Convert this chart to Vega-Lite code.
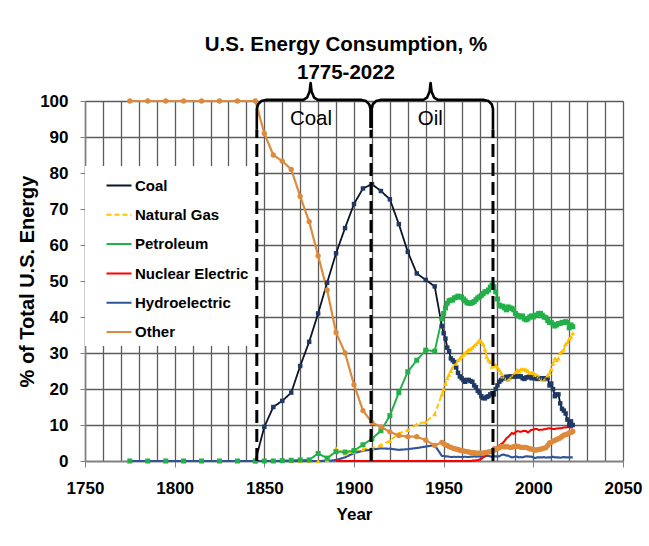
{
  "$schema": "https://vega.github.io/schema/vega-lite/v6.json",
  "width": 538,
  "height": 360,
  "autosize": {"type": "none"},
  "padding": {"left": 85, "top": 101, "right": 26, "bottom": 85},
  "background": "white",
  "config": {"view": {"stroke": null}, "font": "Liberation Sans"},
  "title": {
    "text": ["U.S. Energy Consumption, %", "1775-2022"],
    "font": "Liberation Sans",
    "fontSize": 20.5,
    "fontWeight": "bold",
    "color": "black",
    "lineHeight": 28,
    "anchor": "middle",
    "frame": "group",
    "offset": -2,
    "dx": -8
  },
  "datasets": {
    "energy": [
      {"year": 1775, "Natural Gas": 0, "Petroleum": 0, "Hydroelectric": 0, "Other": 100},
      {"year": 1785, "Natural Gas": 0, "Petroleum": 0, "Hydroelectric": 0, "Other": 100},
      {"year": 1795, "Natural Gas": 0, "Petroleum": 0, "Hydroelectric": 0, "Other": 100},
      {"year": 1805, "Natural Gas": 0, "Petroleum": 0, "Hydroelectric": 0, "Other": 100},
      {"year": 1815, "Natural Gas": 0, "Petroleum": 0, "Hydroelectric": 0, "Other": 100},
      {"year": 1825, "Natural Gas": 0, "Petroleum": 0, "Hydroelectric": 0, "Other": 100},
      {"year": 1835, "Natural Gas": 0, "Petroleum": 0, "Hydroelectric": 0, "Other": 100},
      {"year": 1845, "Coal": 0, "Natural Gas": 0, "Petroleum": 0, "Hydroelectric": 0, "Other": 100},
      {"year": 1850, "Coal": 9.5, "Natural Gas": 0, "Petroleum": 0, "Hydroelectric": 0, "Other": 91},
      {"year": 1855, "Coal": 15, "Natural Gas": 0, "Petroleum": 0, "Hydroelectric": 0, "Other": 85},
      {"year": 1860, "Coal": 16.7, "Natural Gas": 0, "Petroleum": 0.1, "Hydroelectric": 0, "Other": 83.3},
      {"year": 1865, "Coal": 19, "Natural Gas": 0, "Petroleum": 0.2, "Hydroelectric": 0, "Other": 81},
      {"year": 1870, "Coal": 26.4, "Natural Gas": 0, "Petroleum": 0.3, "Hydroelectric": 0, "Other": 73.5},
      {"year": 1875, "Coal": 33.1, "Natural Gas": 0, "Petroleum": 0.3, "Hydroelectric": 0, "Other": 66.5},
      {"year": 1880, "Coal": 41, "Natural Gas": 0, "Petroleum": 2.1, "Hydroelectric": 0, "Other": 57},
      {"year": 1885, "Coal": 49.5, "Natural Gas": 0.3, "Petroleum": 0.8, "Hydroelectric": 0, "Other": 47.5},
      {"year": 1890, "Coal": 57.7, "Natural Gas": 3.5, "Petroleum": 2.6, "Nuclear Electric": 0, "Hydroelectric": 0.3, "Other": 35.7},
      {"year": 1895, "Coal": 64.7, "Natural Gas": 2.1, "Petroleum": 2.5, "Nuclear Electric": 0, "Hydroelectric": 1.0, "Other": 30},
      {"year": 1900, "Coal": 71.4, "Natural Gas": 2.6, "Petroleum": 2.9, "Nuclear Electric": 0, "Hydroelectric": 2.2, "Other": 21.2},
      {"year": 1905, "Coal": 75.7, "Natural Gas": 3.2, "Petroleum": 4.5, "Nuclear Electric": 0, "Hydroelectric": 2.8, "Other": 14},
      {"year": 1910, "Coal": 76.9, "Natural Gas": 3.6, "Petroleum": 6.2, "Nuclear Electric": 0, "Hydroelectric": 3.2, "Other": 10.7},
      {"year": 1915, "Coal": 75, "Natural Gas": 4.4, "Petroleum": 8.4, "Nuclear Electric": 0, "Hydroelectric": 3.5, "Other": 9.5},
      {"year": 1920, "Coal": 72.7, "Natural Gas": 5.6, "Petroleum": 12.6, "Nuclear Electric": 0, "Hydroelectric": 3.4, "Other": 8.1},
      {"year": 1925, "Coal": 65.8, "Natural Gas": 7.7, "Petroleum": 19, "Nuclear Electric": 0, "Hydroelectric": 3.1, "Other": 7.1},
      {"year": 1930, "Coal": 58.1, "Natural Gas": 8.6, "Petroleum": 24.8, "Nuclear Electric": 0, "Hydroelectric": 3.3, "Other": 6.75},
      {"year": 1935, "Coal": 52.1, "Natural Gas": 10.2, "Petroleum": 28, "Nuclear Electric": 0, "Hydroelectric": 3.6, "Other": 6.75},
      {"year": 1940, "Coal": 50.3, "Natural Gas": 10.9, "Petroleum": 30.8, "Nuclear Electric": 0, "Hydroelectric": 4.0, "Other": 5.8},
      {"year": 1945, "Coal": 48.5, "Natural Gas": 13, "Petroleum": 30.5, "Nuclear Electric": 0, "Hydroelectric": 4.4, "Other": 4.3},
      {"year": 1949, "Coal": 37.5, "Natural Gas": 18.5, "Petroleum": 39.5, "Nuclear Electric": 0, "Hydroelectric": 1.4, "Other": 5.2},
      {"year": 1950, "Coal": 35.5, "Natural Gas": 20, "Petroleum": 41, "Nuclear Electric": 0, "Hydroelectric": 1.4, "Other": 4.8},
      {"year": 1951, "Coal": 34, "Natural Gas": 21.5, "Petroleum": 42.5, "Nuclear Electric": 0, "Hydroelectric": 1.3, "Other": 4.5},
      {"year": 1952, "Coal": 31.5, "Natural Gas": 23, "Petroleum": 43.8, "Nuclear Electric": 0, "Hydroelectric": 1.3, "Other": 4.3},
      {"year": 1953, "Coal": 30.5, "Natural Gas": 24, "Petroleum": 44.5, "Nuclear Electric": 0, "Hydroelectric": 1.2, "Other": 4.0},
      {"year": 1954, "Coal": 28.5, "Natural Gas": 25, "Petroleum": 44.7, "Nuclear Electric": 0, "Hydroelectric": 1.1, "Other": 3.8},
      {"year": 1955, "Coal": 28, "Natural Gas": 26, "Petroleum": 44.7, "Nuclear Electric": 0, "Hydroelectric": 1.1, "Other": 3.6},
      {"year": 1956, "Coal": 27.5, "Natural Gas": 26.5, "Petroleum": 45.3, "Nuclear Electric": 0, "Hydroelectric": 1.2, "Other": 3.4},
      {"year": 1957, "Coal": 26, "Natural Gas": 27, "Petroleum": 45.5, "Nuclear Electric": 0, "Hydroelectric": 1.1, "Other": 3.3},
      {"year": 1958, "Coal": 24.5, "Natural Gas": 28, "Petroleum": 45.8, "Nuclear Electric": 0, "Hydroelectric": 1.2, "Other": 3.2},
      {"year": 1959, "Coal": 23.5, "Natural Gas": 28.5, "Petroleum": 45.6, "Nuclear Electric": 0, "Hydroelectric": 1.1, "Other": 3.0},
      {"year": 1960, "Coal": 23, "Natural Gas": 29, "Petroleum": 45.5, "Nuclear Electric": 0, "Hydroelectric": 1.1, "Other": 2.9},
      {"year": 1961, "Coal": 22.5, "Natural Gas": 29.5, "Petroleum": 45, "Nuclear Electric": 0, "Hydroelectric": 1.1, "Other": 2.8},
      {"year": 1962, "Coal": 22, "Natural Gas": 30, "Petroleum": 44.5, "Nuclear Electric": 0, "Hydroelectric": 1.2, "Other": 2.7},
      {"year": 1963, "Coal": 22.5, "Natural Gas": 30.5, "Petroleum": 44, "Nuclear Electric": 0, "Hydroelectric": 1.1, "Other": 2.6},
      {"year": 1964, "Coal": 22.5, "Natural Gas": 31, "Petroleum": 43.8, "Nuclear Electric": 0, "Hydroelectric": 1.1, "Other": 2.5},
      {"year": 1965, "Coal": 22.2, "Natural Gas": 31, "Petroleum": 43.8, "Nuclear Electric": 0, "Hydroelectric": 1.2, "Other": 2.4},
      {"year": 1966, "Coal": 22, "Natural Gas": 31.5, "Petroleum": 44, "Nuclear Electric": 0.1, "Hydroelectric": 1.2, "Other": 2.3},
      {"year": 1967, "Coal": 21, "Natural Gas": 32, "Petroleum": 44.3, "Nuclear Electric": 0.1, "Hydroelectric": 1.3, "Other": 2.3},
      {"year": 1968, "Coal": 20.5, "Natural Gas": 32.5, "Petroleum": 44.8, "Nuclear Electric": 0.2, "Hydroelectric": 1.2, "Other": 2.2},
      {"year": 1969, "Coal": 19.5, "Natural Gas": 33, "Petroleum": 45.3, "Nuclear Electric": 0.2, "Hydroelectric": 1.3, "Other": 2.2},
      {"year": 1970, "Coal": 19, "Natural Gas": 33.6, "Petroleum": 45.6, "Nuclear Electric": 0.4, "Hydroelectric": 1.3, "Other": 2.2},
      {"year": 1971, "Coal": 18, "Natural Gas": 33.2, "Petroleum": 46, "Nuclear Electric": 0.6, "Hydroelectric": 1.3, "Other": 2.2},
      {"year": 1972, "Coal": 17.5, "Natural Gas": 32.5, "Petroleum": 46.5, "Nuclear Electric": 1.0, "Hydroelectric": 1.3, "Other": 2.2},
      {"year": 1973, "Coal": 17.4, "Natural Gas": 31, "Petroleum": 47, "Nuclear Electric": 1.3, "Hydroelectric": 1.3, "Other": 2.3},
      {"year": 1974, "Coal": 17.8, "Natural Gas": 29, "Petroleum": 47, "Nuclear Electric": 1.7, "Hydroelectric": 1.4, "Other": 2.4},
      {"year": 1975, "Coal": 18, "Natural Gas": 28, "Petroleum": 47.5, "Nuclear Electric": 2.5, "Hydroelectric": 1.4, "Other": 2.5},
      {"year": 1976, "Coal": 18.5, "Natural Gas": 27.5, "Petroleum": 48.3, "Nuclear Electric": 2.7, "Hydroelectric": 1.3, "Other": 2.6},
      {"year": 1977, "Coal": 18.8, "Natural Gas": 26.2, "Petroleum": 48.9, "Nuclear Electric": 3.3, "Hydroelectric": 1.1, "Other": 2.7},
      {"year": 1978, "Coal": 18.5, "Natural Gas": 26.5, "Petroleum": 48.4, "Nuclear Electric": 3.8, "Hydroelectric": 1.3, "Other": 3.0},
      {"year": 1979, "Coal": 20, "Natural Gas": 26.7, "Petroleum": 47, "Nuclear Electric": 3.6, "Hydroelectric": 1.3, "Other": 3.2},
      {"year": 1980, "Coal": 21, "Natural Gas": 26, "Petroleum": 45, "Nuclear Electric": 4.0, "Hydroelectric": 1.3, "Other": 3.5},
      {"year": 1981, "Coal": 22, "Natural Gas": 25.3, "Petroleum": 43.3, "Nuclear Electric": 4.3, "Hydroelectric": 1.3, "Other": 3.7},
      {"year": 1982, "Coal": 22.5, "Natural Gas": 24.5, "Petroleum": 43, "Nuclear Electric": 4.7, "Hydroelectric": 1.6, "Other": 4.0},
      {"year": 1983, "Coal": 23, "Natural Gas": 23.5, "Petroleum": 43, "Nuclear Electric": 5.0, "Hydroelectric": 1.8, "Other": 4.0},
      {"year": 1984, "Coal": 23, "Natural Gas": 23.5, "Petroleum": 42.5, "Nuclear Electric": 5.6, "Hydroelectric": 1.7, "Other": 3.9},
      {"year": 1985, "Coal": 23.4, "Natural Gas": 23, "Petroleum": 42, "Nuclear Electric": 6.3, "Hydroelectric": 1.5, "Other": 4.0},
      {"year": 1986, "Coal": 23, "Natural Gas": 22.5, "Petroleum": 42.8, "Nuclear Electric": 6.7, "Hydroelectric": 1.5, "Other": 3.9},
      {"year": 1987, "Coal": 23.5, "Natural Gas": 23, "Petroleum": 42.5, "Nuclear Electric": 7.2, "Hydroelectric": 1.2, "Other": 3.8},
      {"year": 1988, "Coal": 23.5, "Natural Gas": 23.5, "Petroleum": 42.4, "Nuclear Electric": 7.8, "Hydroelectric": 1.0, "Other": 3.8},
      {"year": 1989, "Coal": 23.5, "Natural Gas": 24, "Petroleum": 42, "Nuclear Electric": 7.5, "Hydroelectric": 1.1, "Other": 4.0},
      {"year": 1990, "Coal": 23.5, "Natural Gas": 24.5, "Petroleum": 41, "Nuclear Electric": 8.0, "Hydroelectric": 1.2, "Other": 4.1},
      {"year": 1991, "Coal": 23.5, "Natural Gas": 25.3, "Petroleum": 40.5, "Nuclear Electric": 8.3, "Hydroelectric": 1.2, "Other": 4.1},
      {"year": 1992, "Coal": 23.6, "Natural Gas": 25, "Petroleum": 40.3, "Nuclear Electric": 8.2, "Hydroelectric": 1.0, "Other": 4.0},
      {"year": 1993, "Coal": 23.5, "Natural Gas": 25.5, "Petroleum": 40, "Nuclear Electric": 8.1, "Hydroelectric": 1.1, "Other": 3.8},
      {"year": 1994, "Coal": 23, "Natural Gas": 25.5, "Petroleum": 40.3, "Nuclear Electric": 8.3, "Hydroelectric": 1.0, "Other": 3.8},
      {"year": 1995, "Coal": 22.8, "Natural Gas": 25.5, "Petroleum": 39.5, "Nuclear Electric": 8.4, "Hydroelectric": 1.2, "Other": 3.8},
      {"year": 1996, "Coal": 23.2, "Natural Gas": 25.3, "Petroleum": 39.2, "Nuclear Electric": 8.3, "Hydroelectric": 1.3, "Other": 3.8},
      {"year": 1997, "Coal": 23.3, "Natural Gas": 25, "Petroleum": 39.5, "Nuclear Electric": 7.9, "Hydroelectric": 1.3, "Other": 3.6},
      {"year": 1998, "Coal": 23.5, "Natural Gas": 24.5, "Petroleum": 40, "Nuclear Electric": 8.3, "Hydroelectric": 1.2, "Other": 3.4},
      {"year": 1999, "Coal": 23, "Natural Gas": 24.5, "Petroleum": 40.3, "Nuclear Electric": 8.7, "Hydroelectric": 1.2, "Other": 3.3},
      {"year": 2000, "Coal": 23.2, "Natural Gas": 24.5, "Petroleum": 40, "Nuclear Electric": 8.7, "Hydroelectric": 1.0, "Other": 3.2},
      {"year": 2001, "Coal": 23, "Natural Gas": 24, "Petroleum": 40.5, "Nuclear Electric": 8.9, "Hydroelectric": 0.8, "Other": 3.0},
      {"year": 2002, "Coal": 22.8, "Natural Gas": 23.9, "Petroleum": 40.5, "Nuclear Electric": 8.9, "Hydroelectric": 1.0, "Other": 3.1},
      {"year": 2003, "Coal": 23, "Natural Gas": 23.5, "Petroleum": 41, "Nuclear Electric": 8.6, "Hydroelectric": 1.0, "Other": 3.2},
      {"year": 2004, "Coal": 22.8, "Natural Gas": 23, "Petroleum": 41, "Nuclear Electric": 8.7, "Hydroelectric": 1.0, "Other": 3.3},
      {"year": 2005, "Coal": 23, "Natural Gas": 22.8, "Petroleum": 40.5, "Nuclear Electric": 8.7, "Hydroelectric": 1.0, "Other": 3.4},
      {"year": 2006, "Coal": 22.8, "Natural Gas": 22.5, "Petroleum": 40, "Nuclear Electric": 8.8, "Hydroelectric": 1.1, "Other": 3.6},
      {"year": 2007, "Coal": 23, "Natural Gas": 23, "Petroleum": 39.8, "Nuclear Electric": 8.9, "Hydroelectric": 0.9, "Other": 3.7},
      {"year": 2008, "Coal": 23, "Natural Gas": 23.8, "Petroleum": 39, "Nuclear Electric": 9.0, "Hydroelectric": 1.0, "Other": 4.3},
      {"year": 2009, "Coal": 21, "Natural Gas": 24.5, "Petroleum": 38.5, "Nuclear Electric": 9.1, "Hydroelectric": 1.0, "Other": 5.0},
      {"year": 2010, "Coal": 21.5, "Natural Gas": 25.5, "Petroleum": 38.5, "Nuclear Electric": 9.0, "Hydroelectric": 1.0, "Other": 5.2},
      {"year": 2011, "Coal": 20, "Natural Gas": 27, "Petroleum": 38, "Nuclear Electric": 8.9, "Hydroelectric": 1.2, "Other": 5.6},
      {"year": 2012, "Coal": 18, "Natural Gas": 28.5, "Petroleum": 37.5, "Nuclear Electric": 8.9, "Hydroelectric": 1.0, "Other": 5.7},
      {"year": 2013, "Coal": 18.5, "Natural Gas": 28, "Petroleum": 37.8, "Nuclear Electric": 9.0, "Hydroelectric": 1.0, "Other": 6.0},
      {"year": 2014, "Coal": 18.5, "Natural Gas": 28.5, "Petroleum": 38.2, "Nuclear Electric": 9.1, "Hydroelectric": 1.0, "Other": 6.2},
      {"year": 2015, "Coal": 16, "Natural Gas": 30, "Petroleum": 38.2, "Nuclear Electric": 9.1, "Hydroelectric": 0.9, "Other": 6.4},
      {"year": 2016, "Coal": 14.5, "Natural Gas": 30.5, "Petroleum": 38.5, "Nuclear Electric": 9.2, "Hydroelectric": 1.0, "Other": 6.8},
      {"year": 2017, "Coal": 14, "Natural Gas": 31, "Petroleum": 38.5, "Nuclear Electric": 9.3, "Hydroelectric": 1.1, "Other": 7.2},
      {"year": 2018, "Coal": 13.2, "Natural Gas": 32.5, "Petroleum": 38.7, "Nuclear Electric": 9.3, "Hydroelectric": 1.0, "Other": 7.3},
      {"year": 2019, "Coal": 11.5, "Natural Gas": 33, "Petroleum": 38.5, "Nuclear Electric": 9.4, "Hydroelectric": 1.0, "Other": 7.5},
      {"year": 2020, "Coal": 10, "Natural Gas": 34, "Petroleum": 37, "Nuclear Electric": 9.5, "Hydroelectric": 1.0, "Other": 7.8},
      {"year": 2021, "Coal": 11, "Natural Gas": 34.5, "Petroleum": 37.8, "Nuclear Electric": 9.3, "Hydroelectric": 1.0, "Other": 7.9},
      {"year": 2022, "Coal": 10, "Natural Gas": 35.5, "Petroleum": 37.3, "Nuclear Electric": 9.2, "Hydroelectric": 1.0, "Other": 8.2}
    ],
    "braces": [
      {"grp": "Coal", "ord": 1, "year": 1845.8, "value": 92},
      {"grp": "Coal", "ord": 2, "year": 1845.8, "value": 97.8},
      {"grp": "Coal", "ord": 3, "year": 1846.47, "value": 99.05},
      {"grp": "Coal", "ord": 4, "year": 1848.3, "value": 99.97},
      {"grp": "Coal", "ord": 5, "year": 1850.8, "value": 100.3},
      {"grp": "Coal", "ord": 6, "year": 1871.8, "value": 100.3},
      {"grp": "Coal", "ord": 7, "year": 1873.8, "value": 100.93},
      {"grp": "Coal", "ord": 8, "year": 1875.26, "value": 102.65},
      {"grp": "Coal", "ord": 9, "year": 1875.8, "value": 105},
      {"grp": "Coal", "ord": 10, "year": 1876.34, "value": 102.65},
      {"grp": "Coal", "ord": 11, "year": 1877.8, "value": 100.93},
      {"grp": "Coal", "ord": 12, "year": 1879.8, "value": 100.3},
      {"grp": "Coal", "ord": 13, "year": 1904.2, "value": 100.3},
      {"grp": "Coal", "ord": 14, "year": 1906.7, "value": 99.97},
      {"grp": "Coal", "ord": 15, "year": 1908.53, "value": 99.05},
      {"grp": "Coal", "ord": 16, "year": 1909.2, "value": 97.8},
      {"grp": "Coal", "ord": 17, "year": 1909.2, "value": 92.5},
      {"grp": "Oil", "ord": 1, "year": 1909.8, "value": 92.5},
      {"grp": "Oil", "ord": 2, "year": 1909.8, "value": 97.8},
      {"grp": "Oil", "ord": 3, "year": 1910.47, "value": 99.05},
      {"grp": "Oil", "ord": 4, "year": 1912.3, "value": 99.97},
      {"grp": "Oil", "ord": 5, "year": 1914.8, "value": 100.3},
      {"grp": "Oil", "ord": 6, "year": 1938.7, "value": 100.3},
      {"grp": "Oil", "ord": 7, "year": 1940.7, "value": 100.93},
      {"grp": "Oil", "ord": 8, "year": 1942.16, "value": 102.65},
      {"grp": "Oil", "ord": 9, "year": 1942.7, "value": 105},
      {"grp": "Oil", "ord": 10, "year": 1943.24, "value": 102.65},
      {"grp": "Oil", "ord": 11, "year": 1944.7, "value": 100.93},
      {"grp": "Oil", "ord": 12, "year": 1946.7, "value": 100.3},
      {"grp": "Oil", "ord": 13, "year": 1972.5, "value": 100.3},
      {"grp": "Oil", "ord": 14, "year": 1975, "value": 99.97},
      {"grp": "Oil", "ord": 15, "year": 1976.83, "value": 99.05},
      {"grp": "Oil", "ord": 16, "year": 1977.5, "value": 97.8},
      {"grp": "Oil", "ord": 17, "year": 1977.5, "value": 92}
    ],
    "dividers": [
      {"year": 1845.8, "value": 0, "value2": 92},
      {"year": 1909.5, "value": 0, "value2": 92},
      {"year": 1977.5, "value": 0, "value2": 92}
    ],
    "eras": [
      {"year": 1876, "value": 93.3, "label": "Coal"},
      {"year": 1942.5, "value": 93.3, "label": "Oil"}
    ]
  },
  "encoding": {
    "x": {
      "field": "year", "type": "quantitative",
      "scale": {"domain": [1750, 2050], "nice": false, "zero": false},
      "axis": {
        "values": [1750,1760,1770,1780,1790,1800,1810,1820,1830,1840,1850,1860,1870,1880,1890,1900,1910,1920,1930,1940,1950,1960,1970,1980,1990,2000,2010,2020,2030,2040,2050],
        "format": "d",
        "labelExpr": "datum.value % 50 === 0 ? datum.label : ''",
        "labelOverlap": false,
        "labelFlush": false,
        "grid": true, "gridColor": "#5c5c5c", "gridWidth": 1.3,
        "tickSize": 6, "tickColor": "#808080", "tickWidth": 1,
        "tickOpacity": {"condition": {"test": "datum.value % 50 === 0", "value": 1}, "value": 0},
        "domainColor": "#808080", "domainWidth": 1.5,
        "labelFont": "Liberation Sans", "labelFontSize": 17, "labelFontWeight": "bold", "labelColor": "black", "labelPadding": 13,
        "title": "Year", "titleFont": "Liberation Sans", "titleFontSize": 17, "titleFontWeight": "bold", "titleColor": "black", "titlePadding": 10
      }
    },
    "y": {
      "field": "value", "type": "quantitative",
      "scale": {"domain": [0, 100], "nice": false},
      "axis": {
        "values": [0,10,20,30,40,50,60,70,80,90,100],
        "grid": true, "gridColor": "#5c5c5c", "gridWidth": 1.3,
        "tickSize": 5, "tickColor": "#808080",
        "domainColor": "#808080", "domainWidth": 1.5,
        "labelFont": "Liberation Sans", "labelFontSize": 17, "labelFontWeight": "bold", "labelColor": "black", "labelPadding": 12,
        "title": "% of Total U.S. Energy", "titleFont": "Liberation Sans", "titleFontSize": 20, "titleFontWeight": "bold", "titleColor": "black", "titlePadding": 2
      }
    }
  },
  "layer": [
    {
      "data": {"name": "energy"},
      "transform": [
        {"fold": ["Coal", "Natural Gas", "Petroleum", "Nuclear Electric", "Hydroelectric", "Other"], "as": ["series", "value"]},
        {"filter": "datum.value != null"}
      ],
      "mark": {"type": "line", "strokeJoin": "round", "strokeCap": "butt"},
      "encoding": {
        "color": {
          "field": "series", "type": "nominal",
          "scale": {"domain": ["Coal", "Natural Gas", "Petroleum", "Nuclear Electric", "Hydroelectric", "Other"], "range": ["#0c1428", "#ffc000", "#22b04a", "#ff0000", "#2f5597", "#dd8a3c"]},
          "legend": {"title": null, "orient": "none", "legendX": 0, "legendY": 65, "fillColor": "white", "padding": 6, "symbolType": "stroke", "symbolSize": 625, "symbolStrokeWidth": 3, "symbolOffset": 14, "labelOffset": 2, "rowPadding": 7.2, "labelFont": "Liberation Sans", "labelFontSize": 15, "labelFontWeight": "bold", "labelColor": "black", "labelLimit": 0}
        },
        "strokeDash": {
          "field": "series", "type": "nominal",
          "scale": {"domain": ["Coal", "Natural Gas", "Petroleum", "Nuclear Electric", "Hydroelectric", "Other"], "range": [[1, 0], [5, 3], [1, 0], [1, 0], [1, 0], [1, 0]]},
          "legend": {"title": null, "orient": "none", "legendX": 0, "legendY": 65, "fillColor": "white", "padding": 6, "symbolType": "stroke", "symbolSize": 625, "symbolStrokeWidth": 3, "symbolOffset": 14, "labelOffset": 2, "rowPadding": 7.2, "labelFont": "Liberation Sans", "labelFontSize": 15, "labelFontWeight": "bold", "labelColor": "black", "labelLimit": 0}
        },
        "strokeWidth": {
          "field": "series", "type": "ordinal",
          "scale": {"domain": ["Coal", "Natural Gas", "Petroleum", "Nuclear Electric", "Hydroelectric", "Other"], "range": [1.8, 2.2, 2.2, 2.2, 2.2, 2.2]},
          "legend": null
        },
        "order": {"field": "year", "type": "quantitative"}
      }
    },
    {
      "data": {"name": "energy"},
      "transform": [
        {"fold": ["Coal", "Natural Gas", "Petroleum", "Other"], "as": ["series", "value"]},
        {"filter": "datum.value != null"}
      ],
      "mark": {"type": "point", "filled": true, "opacity": 1, "strokeWidth": 0},
      "encoding": {
        "fill": {
          "field": "series", "type": "nominal",
          "scale": {"domain": ["Coal", "Natural Gas", "Petroleum", "Other"], "range": ["#1f3864", "#ffc000", "#22b04a", "#dd8a3c"]},
          "legend": null
        },
        "shape": {
          "field": "series", "type": "nominal",
          "scale": {"domain": ["Coal", "Natural Gas", "Petroleum", "Other"], "range": ["square", "triangle-up", "square", "circle"]},
          "legend": null
        },
        "size": {
          "field": "series", "type": "ordinal",
          "scale": {"domain": ["Coal", "Natural Gas", "Petroleum", "Other"], "range": [20, 28, 17, 56]},
          "legend": null
        }
      }
    },
    {
      "data": {"name": "braces"},
      "mark": {"type": "line", "color": "black", "strokeWidth": 2.6, "strokeJoin": "round"},
      "encoding": {
        "detail": {"field": "grp", "type": "nominal"},
        "order": {"field": "ord", "type": "quantitative"}
      }
    },
    {
      "data": {"name": "dividers"},
      "mark": {"type": "rule", "color": "black", "strokeWidth": 3, "strokeDash": [13, 6]},
      "encoding": {
        "y2": {"field": "value2"}
      }
    },
    {
      "data": {"name": "eras"},
      "mark": {"type": "text", "font": "Liberation Sans", "fontSize": 20.5, "color": "black", "align": "center", "baseline": "alphabetic"},
      "encoding": {
        "text": {"field": "label"}
      }
    }
  ]
}
